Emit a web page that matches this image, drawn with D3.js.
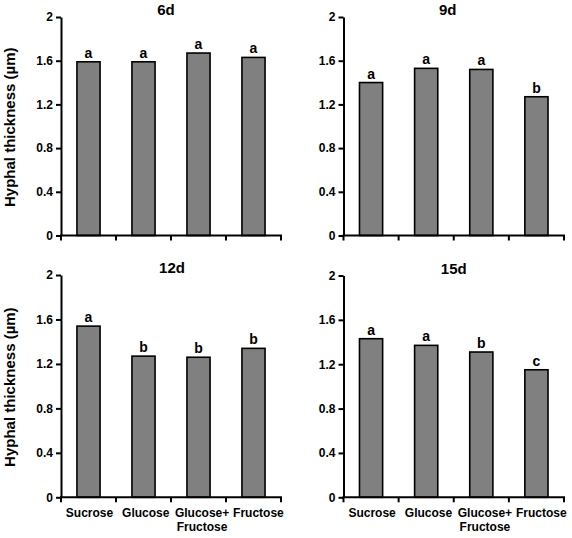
<!DOCTYPE html>
<html>
<head>
<meta charset="utf-8">
<script src="https://cdn.jsdelivr.net/npm/d3@7"></script>
<style>
  html, body { margin: 0; padding: 0; background: #fff; }
  svg { display: block; font-family: "Liberation Sans", Arial, Helvetica, sans-serif; font-weight: bold; }
</style>
</head>
<body>
<svg id="chart" width="572" height="538"></svg>
<script>
const categories = ["Sucrose", "Glucose", "Glucose+|Fructose", "Fructose"];
const panelTitles = ["6d", "9d", "12d", "15d"];
const values6d  = [1.59, 1.59, 1.67, 1.63];
const values9d  = [1.40, 1.53, 1.52, 1.27];
const values12d = [1.54, 1.27, 1.26, 1.34];
const values15d = [1.43, 1.37, 1.31, 1.15];
const letters6d  = ["a", "a", "a", "a"];
const letters9d  = ["a", "a", "a", "b"];
const letters12d = ["a", "b", "b", "b"];
const letters15d = ["a", "a", "b", "c"];
const yTicks = [0, 0.4, 0.8, 1.2, 1.6, 2];
const yLabel = "Hyphal thickness (µm)";

const seriesValues = [values6d, values9d, values12d, values15d];
const seriesLetters = [letters6d, letters9d, letters12d, letters15d];

// layout (plot areas)
const layout = [
  { x0: 61,    x1: 281, yTop: 17,  yBot: 235.5, titleDx: -5, showX: false, showY: true },
  { x0: 343.5, x1: 564, yTop: 17,  yBot: 235.5, titleDx: -6, showX: false, showY: false },
  { x0: 61,    x1: 281, yTop: 275, yBot: 497.3, titleDx: 1,  showX: true,  showY: true },
  { x0: 343.5, x1: 564, yTop: 275.5, yBot: 497.3, titleDx: 0, showX: true,  showY: false }
];

const svg = d3.select("#chart");

layout.forEach((L, p) => {
  const g = svg.append("g");
  const x = d3.scaleBand().domain(categories).range([L.x0, L.x1])
    .paddingInner(0.58).paddingOuter(0.29);
  const y = d3.scaleLinear().domain([0, 2]).range([L.yBot, L.yTop]);

  const data = categories.map((c, i) => ({ c, v: seriesValues[p][i], l: seriesLetters[p][i] }));

  // bars
  g.selectAll("rect.bar").data(data).enter().append("rect")
    .attr("class", "bar")
    .attr("x", d => x(d.c))
    .attr("y", d => y(d.v))
    .attr("width", x.bandwidth())
    .attr("height", d => y(0) - y(d.v))
    .attr("fill", "#808080")
    .attr("stroke", "#000")
    .attr("stroke-width", 1.6);

  // significance letters
  g.selectAll("text.sig").data(data).enter().append("text")
    .attr("class", "sig")
    .attr("x", d => x(d.c) + x.bandwidth() / 2)
    .attr("y", d => y(d.v) - 4)
    .attr("text-anchor", "middle")
    .attr("font-size", 14)
    .text(d => d.l);

  // y axis
  const yAxis = d3.axisLeft(y).tickValues(yTicks).tickSize(5).tickSizeOuter(0)
    .tickFormat(d => d3.format("")(+d.toFixed(1)));
  const ya = g.append("g").attr("transform", `translate(${L.x0},0)`).call(yAxis);
  ya.select(".domain").attr("stroke", "#000").attr("stroke-width", 2);
  ya.selectAll(".tick line").attr("stroke", "#000").attr("stroke-width", 2);
  ya.selectAll(".tick text").attr("font-size", 12).attr("font-weight", "bold")
    .attr("font-family", "Liberation Sans, Arial, sans-serif").attr("fill", "#000").attr("x", -8);

  // x axis line with ticks at band boundaries
  const step = x.step();
  const bounds = d3.range(categories.length + 1).map(i => x.range()[0] + i * step);
  g.append("line")
    .attr("x1", L.x0 - 1).attr("x2", L.x1 + 1)
    .attr("y1", y(0)).attr("y2", y(0))
    .attr("stroke", "#000").attr("stroke-width", 2);
  g.selectAll("line.xt").data(bounds).enter().append("line")
    .attr("class", "xt")
    .attr("x1", d => d).attr("x2", d => d)
    .attr("y1", y(0)).attr("y2", y(0) + 5)
    .attr("stroke", "#000").attr("stroke-width", 2);

  // x labels
  if (L.showX) {
    const lbl = g.selectAll("text.xl").data(categories).enter().append("text")
      .attr("class", "xl")
      .attr("text-anchor", "middle")
      .attr("font-size", 12);
    lbl.each(function(c, i) {
      const parts = c.split("|");
      const t = d3.select(this);
      parts.forEach((s, k) => {
        t.append("tspan")
          .attr("x", x(c) + x.bandwidth() / 2 + 1 + i * 1.3)
          .attr("y", y(0) + 20 + k * 14)
          .text(s);
      });
    });
  }

  // title
  g.append("text")
    .attr("x", (L.x0 + L.x1) / 2 + L.titleDx)
    .attr("y", L.yTop - 2)
    .attr("text-anchor", "middle")
    .attr("font-size", 15)
    .text(panelTitles[p]);

  // y label
  if (L.showY) {
    const cy = (L.yTop + L.yBot) / 2 + 1;
    g.append("text")
      .attr("transform", `translate(15,${cy}) rotate(-90)`)
      .attr("text-anchor", "middle")
      .attr("font-size", 15)
      .text(yLabel);
  }
});
</script>
</body>
</html>
